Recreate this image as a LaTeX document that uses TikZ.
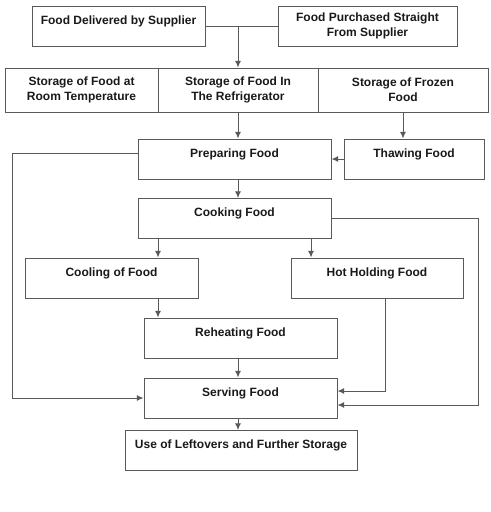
\documentclass[tikz,border=0pt]{standalone}
\usepackage{fontspec}
\setmainfont{Liberation Sans}
\usepackage{tikz}
\usetikzlibrary{arrows.meta}

\begin{document}
\begin{tikzpicture}[x=0.75pt,y=0.75pt,yscale=-1,xscale=1,
  box/.style={draw=black!65, line width=0.75pt, rectangle, inner sep=0pt, align=center,
    font=\bfseries\fontsize{9}{11.25}\selectfont, text=black!90, minimum height=30pt},
  boxtop/.style={box, text height=13.5pt, text depth=16.5pt},
  arr/.style={draw=black!65, line width=0.75pt, -{Latex[length=5pt,width=4.5pt]}},
  ln/.style={draw=black!65, line width=0.75pt}]
\useasboundingbox (0,0) rectangle (491,512);

%Shape: Rectangle [suppliers]
\node[boxtop, minimum width=129.75pt] (deliv) at (118.5,26) {Food Delivered by Supplier};
\node[box, minimum width=134.25pt] (purch) at (367.5,26) {Food Purchased Straight\\From Supplier};
%Shape: Rectangle [storage row]
\node[box, minimum width=114.75pt, minimum height=33pt] (storroom) at (81.5,90) {Storage of Food at\\Room Temperature};
\node[box, minimum width=120pt, minimum height=33pt] (storfridge) at (238,90) {Storage of Food In\\The Refrigerator};
\node[box, minimum width=127.5pt, minimum height=33pt] (storfrozen) at (403,90) {Storage of Frozen\\Food};
%Shape: Rectangle [preparing]
\node[boxtop, minimum width=144.75pt] (prep) at (234.5,159) {Preparing Food};
\node[boxtop, minimum width=105pt] (thaw) at (414,159) {Thawing Food};
\node[boxtop, minimum width=144.75pt] (cook) at (234.5,218.5) {Cooking Food};
\node[boxtop, minimum width=129.75pt] (cool) at (111.5,278) {Cooling of Food};
\node[boxtop, minimum width=129pt] (hot) at (377,278) {Hot Holding Food};
\node[boxtop, minimum width=144.75pt] (reheat) at (240.5,338) {Reheating Food};
\node[boxtop, minimum width=144.75pt] (serve) at (240.5,398) {Serving Food};
\node[boxtop, minimum width=174pt] (use) at (241,450.5) {Use of Leftovers and Further Storage};

%Columns of the arrows
\coordinate (colM) at (238,0);
\coordinate (colA) at (158,0);
\coordinate (colB) at (311,0);
\coordinate (colL) at (12,0);
\coordinate (colR) at (478,0);
\coordinate (colH) at (385,0);
\coordinate (j1) at (deliv.east -| colM);

%Straight Lines
\draw[ln] (deliv.east) -- (purch.west);
\draw[arr] (j1) -- (storfridge.north);
\draw[arr] (storfridge.south) -- (prep.north -| colM);
\draw[arr] (storfrozen.south) -- (thaw.north -| storfrozen.south);
\draw[arr] (thaw.west) -- (prep.east);
\draw[arr] ([yshift=-4.5pt]prep.west) -- ([yshift=-4.5pt]prep.west -| colL) |- (serve.west);
\draw[arr] (prep.south -| colM) -- (cook.north -| colM);
\draw[arr] (cook.south -| colA) -- (cool.north -| colA);
\draw[arr] (cook.south -| colB) -- (hot.north -| colB);
\draw[arr] (cool.south -| colA) -- (reheat.north -| colA);
\draw[arr] (cook.east) -- (cook.east -| colR) |- ([yshift=5.25pt]serve.east);
\draw[arr] (hot.south -| colH) |- ([yshift=-5.25pt]serve.east);
\draw[arr] (reheat.south -| colM) -- (serve.north -| colM);
\draw[arr] (serve.south -| colM) -- (use.north -| colM);

\end{tikzpicture}
\end{document}
